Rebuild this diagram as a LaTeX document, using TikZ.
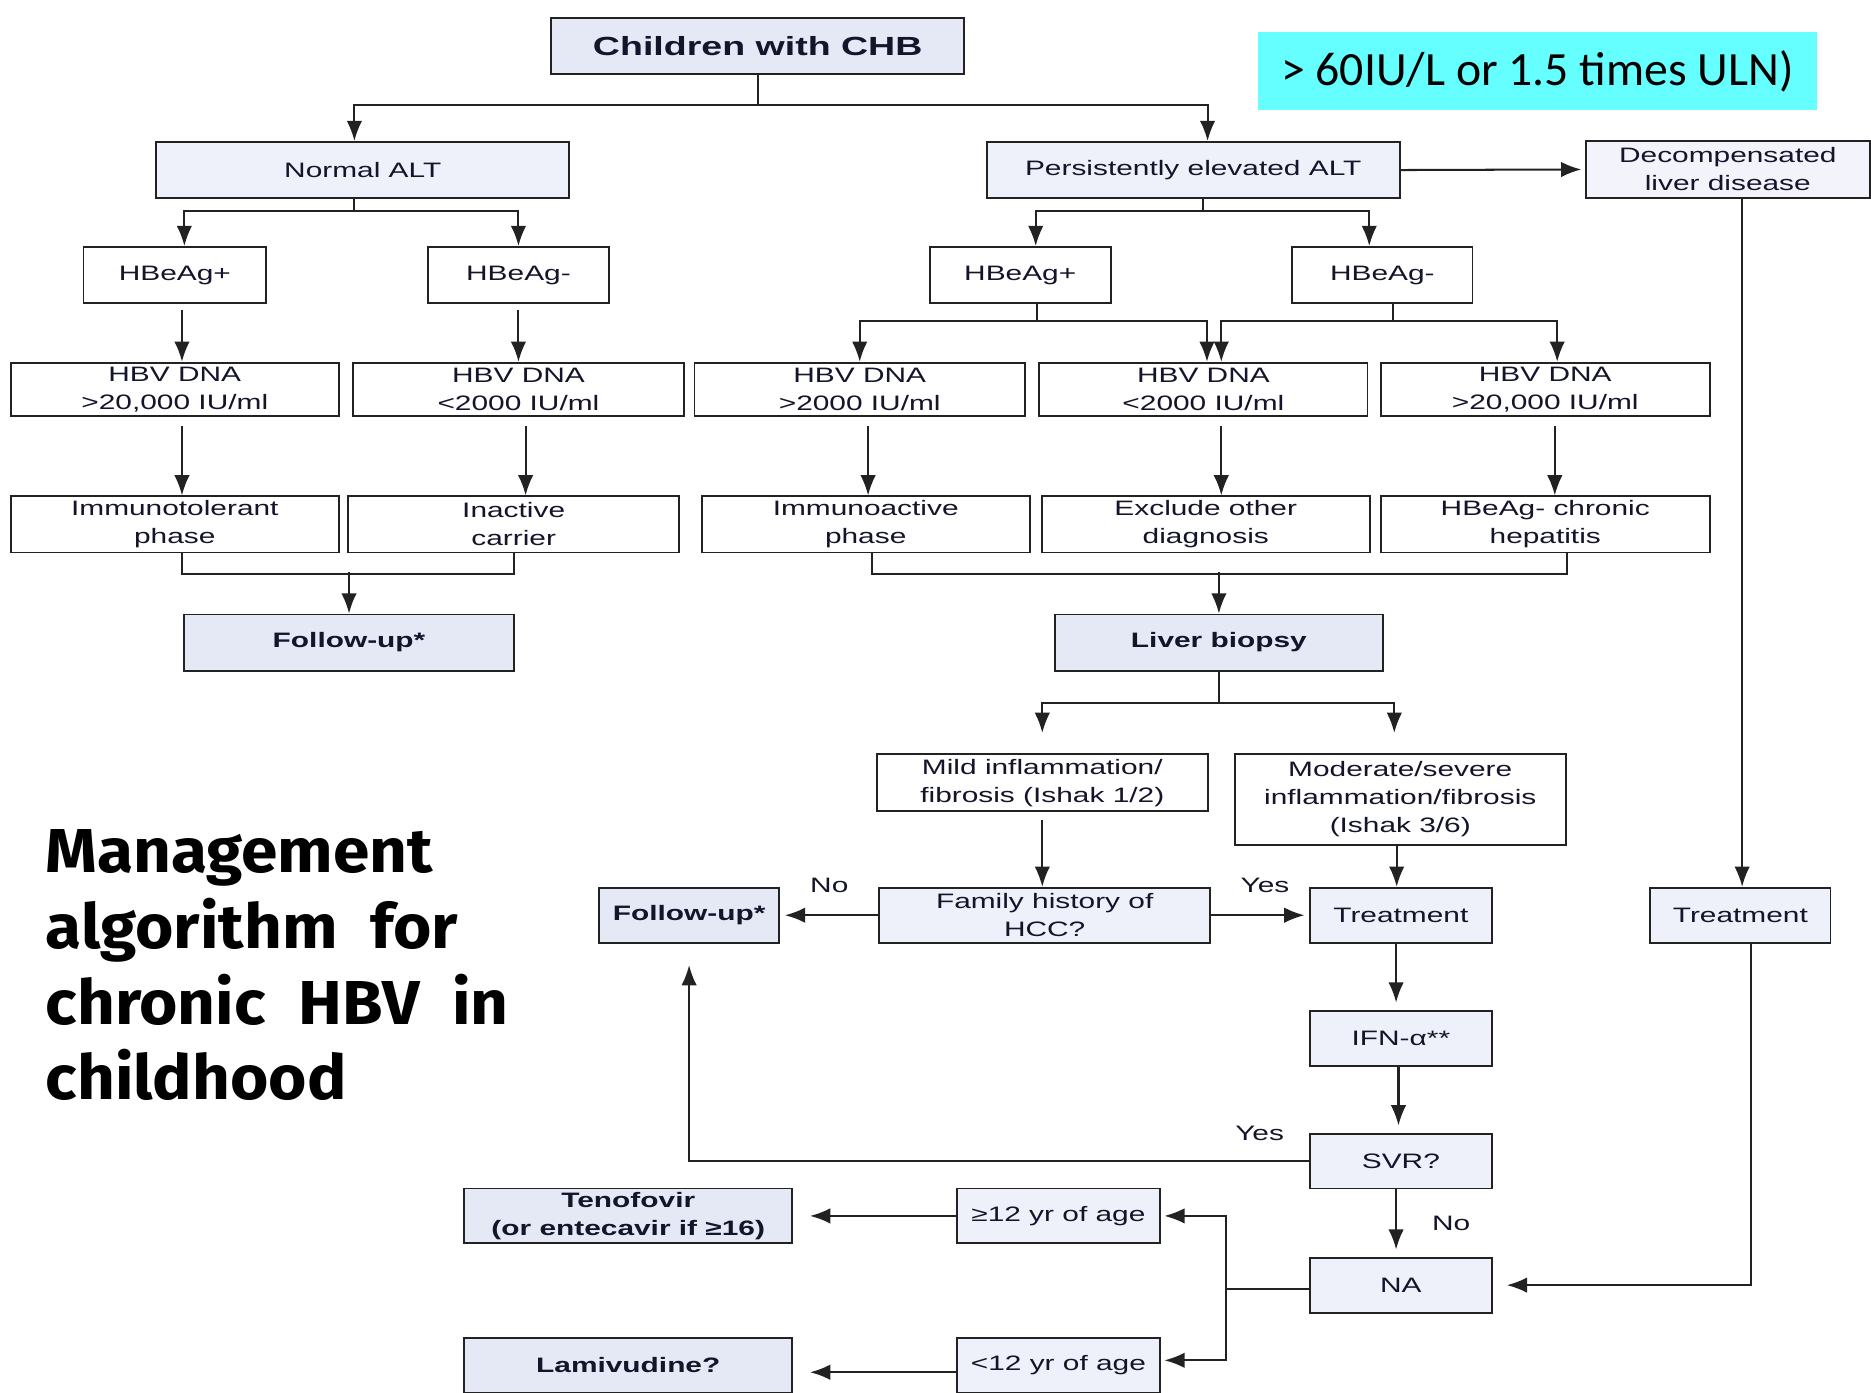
\documentclass[tikz,border=0pt]{standalone}
\usepackage{fontspec}
\usepackage{xcolor}
\usepackage{tikz}
\usetikzlibrary{arrows.meta, positioning}

\newfontfamily\boxfont{Liberation Sans}[FakeStretch=1.43]
\newfontfamily\ulnfont{Carlito}
\newfontfamily\titlefont{Fira Sans}[FakeStretch=1.06, WordSpace=2.1]

\definecolor{linec}{HTML}{222222}
\definecolor{darkfill}{HTML}{E5E9F6}
\definecolor{lightfill}{HTML}{EFF1FA}
\definecolor{decompfill}{HTML}{F3F3FB}
\definecolor{ulncyan}{HTML}{66FFFF}
\definecolor{txtc}{HTML}{14142A}

\tikzset{
  box/.style 2 args={draw=linec, line width=1.6pt, fill=white, text=txtc,
    minimum width=#1, minimum height=#2, inner sep=0pt, align=center,
    font=\boxfont\fontsize{17.5}{23.5}\selectfont},
  litebox/.style 2 args={box={#1}{#2}, fill=lightfill},
  boldbox/.style 2 args={box={#1}{#2}, fill=darkfill,
    font=\boxfont\bfseries\fontsize{17.5}{23.5}\selectfont},
  line/.style={draw=linec, line width=1.7pt},
  arr/.style={line, -{Latex[length=17pt,width=13pt]}},
  lbl/.style={text=txtc, font=\boxfont\fontsize{17.5}{23.5}\selectfont},
}

\begin{document}
\begin{tikzpicture}[x=1pt, y=-1pt, on grid]
  \useasboundingbox (0,0) rectangle (1568,1167);

  % header
  \node[boldbox={346pt}{47pt}, font=\boxfont\bfseries\fontsize{22}{26}\selectfont] (chb) at (635,38.5) {Children with CHB};
  \node[fill=ulncyan, minimum width=469pt, minimum height=65pt, inner sep=0pt,
        font=\ulnfont\fontsize{40}{44}\selectfont] (uln) at (1288.5,59.5) {> 60IU/L or 1.5 times ULN)};

  % ALT level
  \node[litebox={346pt}{47pt}] (nalt) at (304,142.5) {Normal ALT};
  \node[litebox={346pt}{47pt}] (palt) [right=696pt of nalt] {Persistently elevated ALT};
  \node[box={238pt}{48pt}, fill=decompfill] (decomp) at (1448,142) {Decompensated\\liver disease};

  % HBeAg status
  \node[box={153pt}{47pt}] (hpl) at (146.5,230.5) {HBeAg+};
  \node[box={151pt}{47pt}] (hml) [right=288pt of hpl] {HBeAg-};
  \node[box={152pt}{47pt}] (hpr) [right=420.5pt of hml] {HBeAg+};
  \node[box={151pt}{47pt}] (hmr) [right=303.5pt of hpr] {HBeAg-};

  % HBV DNA
  \node[box={275pt}{45pt}] (d1) at (146.5,326.5) {HBV DNA\\>20,000 IU/ml};
  \node[box={277pt}{45pt}] (d2) [right=288pt of d1] {HBV DNA\\<2000 IU/ml};
  \node[box={277pt}{45pt}] (d3) [right=286pt of d2] {HBV DNA\\>2000 IU/ml};
  \node[box={275pt}{45pt}] (d4) [right=288pt of d3] {HBV DNA\\<2000 IU/ml};
  \node[box={276pt}{45pt}] (d5) [right=286.5pt of d4] {HBV DNA\\>20,000 IU/ml};

  % phases
  \node[box={275pt}{47pt}] (p1) [below=113pt of d1] {Immunotolerant\\phase};
  \node[box={277pt}{47pt}] (p2) [right=284pt of p1] {Inactive\\carrier};
  \node[box={275pt}{47pt}] (p3) [right=295pt of p2] {Immunoactive\\phase};
  \node[box={275pt}{47pt}] (p4) [right=285pt of p3] {Exclude other\\diagnosis};
  \node[box={276pt}{47pt}] (p5) [right=284.5pt of p4] {HBeAg- chronic\\hepatitis};

  \node[boldbox={277pt}{47pt}] (fu1) at (292.5,538.5) {Follow-up*};
  \node[boldbox={275pt}{47pt}] (lb) [right=729pt of fu1] {Liver biopsy};

  % biopsy result
  \node[box={277pt}{48pt}] (mild) at (873.5,656) {Mild inflammation/\\fibrosis (Ishak 1/2)};
  \node[box={277pt}{76pt}] (mod) at (1173.5,670) {Moderate/severe\\inflammation/fibrosis\\(Ishak 3/6)};

  \node[litebox={277pt}{46pt}] (fam) at (875.5,767) {Family history of\\HCC?};
  \node[boldbox={151pt}{46pt}] (fu2) [left=298pt of fam] {Follow-up*};
  \node[litebox={152pt}{46pt}] (trm) [right=298.5pt of fam] {Treatment};
  \node[litebox={151pt}{46pt}] (trr) [right=284.5pt of trm] {Treatment};
  \node[litebox={152pt}{46pt}] (ifn) [below=103pt of trm] {IFN-α**};
  \node[litebox={152pt}{46pt}] (svr) [below=103pt of ifn] {SVR?};
  \node[litebox={152pt}{46pt}] (na) [below=104pt of svr] {NA};

  % age
  \node[litebox={170pt}{46pt}] (ge12) at (887,1019) {≥12 yr of age};
  \node[litebox={170pt}{46pt}] (lt12) [below=125pt of ge12] {<12 yr of age};
  \node[boldbox={275pt}{46pt}] (teno) [left=360.5pt of ge12] {Tenofovir\\(or entecavir if ≥16)};
  \node[boldbox={275pt}{46pt}] (lami) [left=360.5pt of lt12] {Lamivudine?};

  \node[anchor=north west, align=left, text=black, inner sep=0pt,
        font=\titlefont\bfseries\fontsize{52}{63.5}\selectfont] (title) at (38,695)
        {Management\\algorithm for\\chronic HBV in\\childhood};

  % connectors
  \draw[line] (chb.south) -- ++(0,25) coordinate (b1);
  \draw[arr] (b1) -| ([xshift=-7pt]nalt.north);
  \draw[arr] (b1) -| ([xshift=12pt]palt.north);
  \draw[arr, shorten >=3pt] (palt.east) -- (decomp.west);

  \draw[line] ([xshift=-7pt]nalt.south) -- ++(0,10) coordinate (b2);
  \draw[arr] (b2) -| ([xshift=8pt]hpl.north);
  \draw[arr] (b2) -| (hml.north);
  \draw[line] ([xshift=8pt]palt.south) -- ++(0,10) coordinate (b3);
  \draw[arr] (b3) -| ([xshift=13pt]hpr.north);
  \draw[arr] (b3) -| ([xshift=-11pt]hmr.north);

  \draw[arr, shorten <=5pt] ([xshift=6pt]hpl.south) -- ([xshift=6pt]hpl.south |- d1.north);
  \draw[arr, shorten <=5pt] (hml.south) -- (d2.north);
  \draw[line] ([xshift=14pt]hpr.south) -- ++(0,14) coordinate (b4);
  \draw[arr] (b4) -| (d3.north);
  \draw[arr] (b4) -| ([xshift=3pt]d4.north);
  \draw[line] ([xshift=9pt]hmr.south) -- ++(0,14) coordinate (b5);
  \draw[arr] (b5) -| ([xshift=15pt]d4.north);
  \draw[arr] (b5) -| ([xshift=10pt]d5.north);

  \foreach \a/\b/\s in {d1/p1/6, d2/p2/6, d3/p3/7, d4/p4/15, d5/p5/8}
    \draw[arr, shorten <=7pt] ([xshift=\s pt]\a.south) -- ([xshift=\s pt]\a.south |- \b.north);

  \draw[line] ([xshift=6pt]p1.south) -- ++(0,17) -| (p2.south);
  \draw[arr] (fu1.north) ++(0,-35) -- (fu1.north);
  \draw[line] ([xshift=5pt]p3.south) -- ++(0,17) -| ([xshift=18pt]p5.south);
  \draw[arr] (lb.north) ++(0,-35) -- (lb.north);

  \draw[line] (lb.south) -- ++(0,26) coordinate (b6);
  \draw[arr, shorten >=17pt] (b6) -| (mild.north);
  \draw[arr, shorten >=17pt] (b6) -| ([xshift=-5pt]mod.north);

  \draw[arr, shorten <=6pt] (mild.south) -- (mild.south |- fam.north);
  \draw[arr] ([xshift=-3pt]mod.south) -- ([xshift=-3pt]mod.south |- trm.north);
  \draw[arr, shorten >=4pt] (fam.west) -- node[lbl, above=15pt] {No} (fu2.east);
  \draw[arr, shorten >=4pt] (fam.east) -- node[lbl, above=15pt, pos=0.55] {Yes} (trm.west);
  \draw[arr, shorten >=6pt] ([xshift=-4pt]trm.south) -- ([xshift=-4pt]trm.south |- ifn.north);
  \draw[arr, shorten >=6pt] ([xshift=-2pt]ifn.south) -- ([xshift=-2pt]ifn.south |- svr.north);
  \draw[arr, shorten >=18pt] (svr.west) -| node[lbl, pos=0.04, above=13pt] {Yes} (fu2.south);
  \draw[arr, shorten >=6pt] ([xshift=-4pt]svr.south) -- node[lbl, right=26pt] {No} ([xshift=-4pt]svr.south |- na.north);

  \draw[arr] ([xshift=12pt]decomp.south) -- ([xshift=12pt]decomp.south |- trr.north);
  \draw[arr, shorten >=12pt] ([xshift=9pt]trr.south) |- (na.east);

  \draw[line] ([yshift=-3pt]na.west) -- ++(-70,0) coordinate (b7);
  \draw[arr, shorten >=3pt] (b7) |- (ge12.east);
  \draw[arr, shorten >=3pt] (b7) |- ([yshift=4pt]lt12.east);
  \draw[arr, shorten >=14pt] (ge12.west) -- (teno.east);
  \draw[arr, shorten >=14pt] ([yshift=-6pt]lt12.west) -- ([yshift=-6pt]lami.east);
\end{tikzpicture}
\end{document}
